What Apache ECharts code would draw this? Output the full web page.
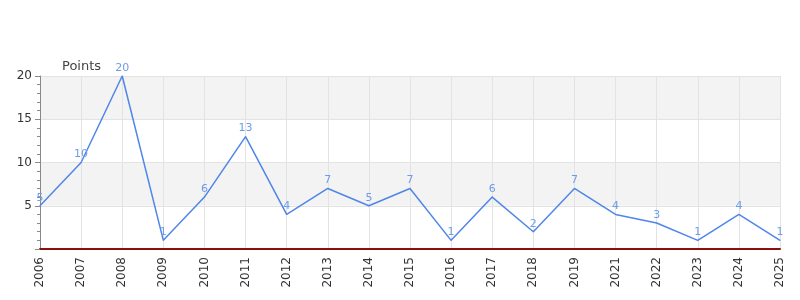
<!DOCTYPE html>
<html><head><meta charset="utf-8">
<script src="https://cdn.jsdelivr.net/npm/echarts@6/dist/echarts.min.js"></script>
<style>html,body{margin:0;padding:0;background:#fff}#c{width:800px;height:300px}</style>
</head><body><div id="c"></div>
<script>
const years = ['2006','2007','2008','2009','2010','2011','2012','2013','2014','2015','2016','2017','2018','2019','2021','2022','2023','2024','2025'];
const points = [5,10,20,1,6,13,4,7,5,7,1,6,2,7,4,3,1,4,1];
const yTicks = [0,5,10,15,20];

const chart = echarts.init(document.getElementById('c'), null, {renderer:'canvas'});
chart.setOption({
  animation:false,
  textStyle:{fontFamily:'DejaVu Sans'},
  grid:{left:40,right:20,top:76,bottom:51,containLabel:false},
  xAxis:{
    type:'category', data:years, boundaryGap:false,
    axisLine:{lineStyle:{color:'#8a1010',width:2}},
    axisTick:{show:false},
    axisLabel:{rotate:90,color:'#333',fontSize:12,margin:8},
    splitLine:{show:true,lineStyle:{color:'#e3e3e3'}}
  },
  yAxis:{
    type:'value', min:yTicks[0], max:yTicks[yTicks.length-1], interval:5,
    name:'Points', nameLocation:'end', nameGap:3,
    nameTextStyle:{color:'#444',fontSize:13,align:'left',padding:[0,0,0,22]},
    axisLine:{show:true,lineStyle:{color:'#888'}},
    axisTick:{show:true,length:5,lineStyle:{color:'#888'}},
    minorTick:{show:true,splitNumber:5,length:3,lineStyle:{color:'#888'}},
    axisLabel:{color:'#333',fontSize:12,showMinLabel:false,margin:8},
    splitLine:{show:true,lineStyle:{color:'#e3e3e3'}},
    splitArea:{show:true,areaStyle:{color:['#ffffff','#f3f3f3']}}
  },
  series:[{
    type:'line', data:points, symbol:'circle', symbolSize:1, showSymbol:true,
    itemStyle:{color:'#4f86e8'},
    lineStyle:{color:'#4f86e8',width:1.5},
    label:{show:true,position:'top',color:'#6f9ce8',fontSize:11,distance:2}
  }]
});
</script></body></html>
